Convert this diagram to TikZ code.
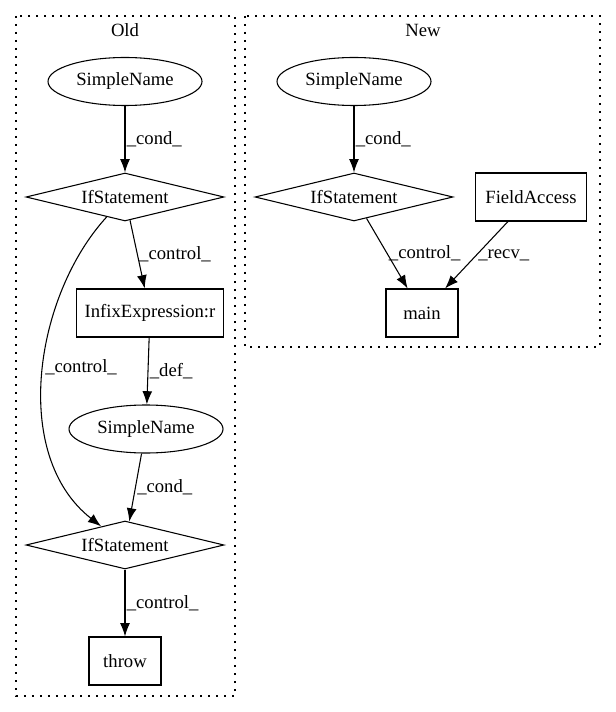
\documentclass[tikz,border=0pt]{standalone}
\usepackage{fontspec}
\setmainfont{Liberation Serif}
\usetikzlibrary{arrows.meta}
\usetikzlibrary{shapes}
\tikzset{%
  every ast/.style={
    draw,
    inner sep=0pt,
    minimum height=36pt,
    font=\fontsize{14pt}{16pt}\selectfont
  },
  name node/.style={
    every ast,
    ellipse,
    minimum width=115.5pt
  },
  if node/.style={
    every ast,
    diamond,
    aspect=4,
    minimum width=148.5pt
  },
  box node/.style={
    every ast,
    rectangle
  },
  cluster/.style={
    draw,
    dash pattern=on 1.2pt off 4.8pt
  },
  edge label/.style={
    anchor=west,
    inner sep=1pt,
    font=\fontsize{14pt}{16pt}\selectfont
  },
}

\begin{document}
\begin{tikzpicture}[x=0.75pt,y=-0.75pt,line width=0.8pt]
    \useasboundingbox (0,0) rectangle (615,712);

    % clusters
    \draw [cluster] (16,16) rectangle (235,696);
    \draw [cluster] (245,16) rectangle (600,347);
    \node (old) [edge label,anchor=center] at (125,30) {Old};
    \node (new) [edge label,anchor=center] at (423,30) {New};

    % old
    \node (osn1) [name node] at (125,81.5) {SimpleName};
    \node (oif1) [if node] at (125,197) {IfStatement};
    \node (oinfix) [box node,minimum width=110pt] at (150,313) 
    {InfixExpression:r};
    \node (osn2) [name node] at (146,429) {SimpleName};
    \node (oif2) [if node] at (125,545) {IfStatement};
    \node (othrow) [box node,minimum width=54pt] at (125,661) {throw};

    % new
    \node (nsn) [name node] at (354,81.5) {SimpleName};
    \node (nif) [if node] at (354,197) {IfStatement};
    \node (nfield) [box node,minimum width=83pt] at (531,197) {FieldAccess};
    \node (nmain) [box node,minimum width=54pt] at (422,313) {main};

    \draw   [-{Latex[length=3.5mm,width=2.6mm]}] (osn1) -- 
    node [edge label] {\_cond\_} (oif1);
    \draw   [-{Latex[length=3.5mm,width=2.6mm]}] (oif1) -- 
    node [edge label] {\_control\_} (oinfix);
    \draw   [-{Latex[length=3.5mm,width=2.6mm]}] (oif1) 
    .. controls (35,295) and (10,455) .. 
    node [edge label,pos=0.48] {\_control\_} (oif2);
    \draw   [-{Latex[length=3.5mm,width=2.6mm]}] (oinfix) -- 
    node [edge label] {\_def\_} (osn2);
    \draw   [-{Latex[length=3.5mm,width=2.6mm]}] (osn2) -- 
    node [edge label] {\_cond\_} (oif2);
    \draw   [-{Latex[length=3.5mm,width=2.6mm]}] (oif2) -- 
    node [edge label] {\_control\_} (othrow);

    \draw   [-{Latex[length=3.5mm,width=2.6mm]}] (nsn) -- 
    node [edge label] {\_cond\_} (nif);
    \draw   [-{Latex[length=3.5mm,width=2.6mm]}] (nif) -- 
    node [edge label] {\_control\_} (nmain);
    \draw   [-{Latex[length=3.5mm,width=2.6mm]}] (nfield) -- 
    node [edge label] {\_recv\_} (nmain);
\end{tikzpicture}
\end{document}
